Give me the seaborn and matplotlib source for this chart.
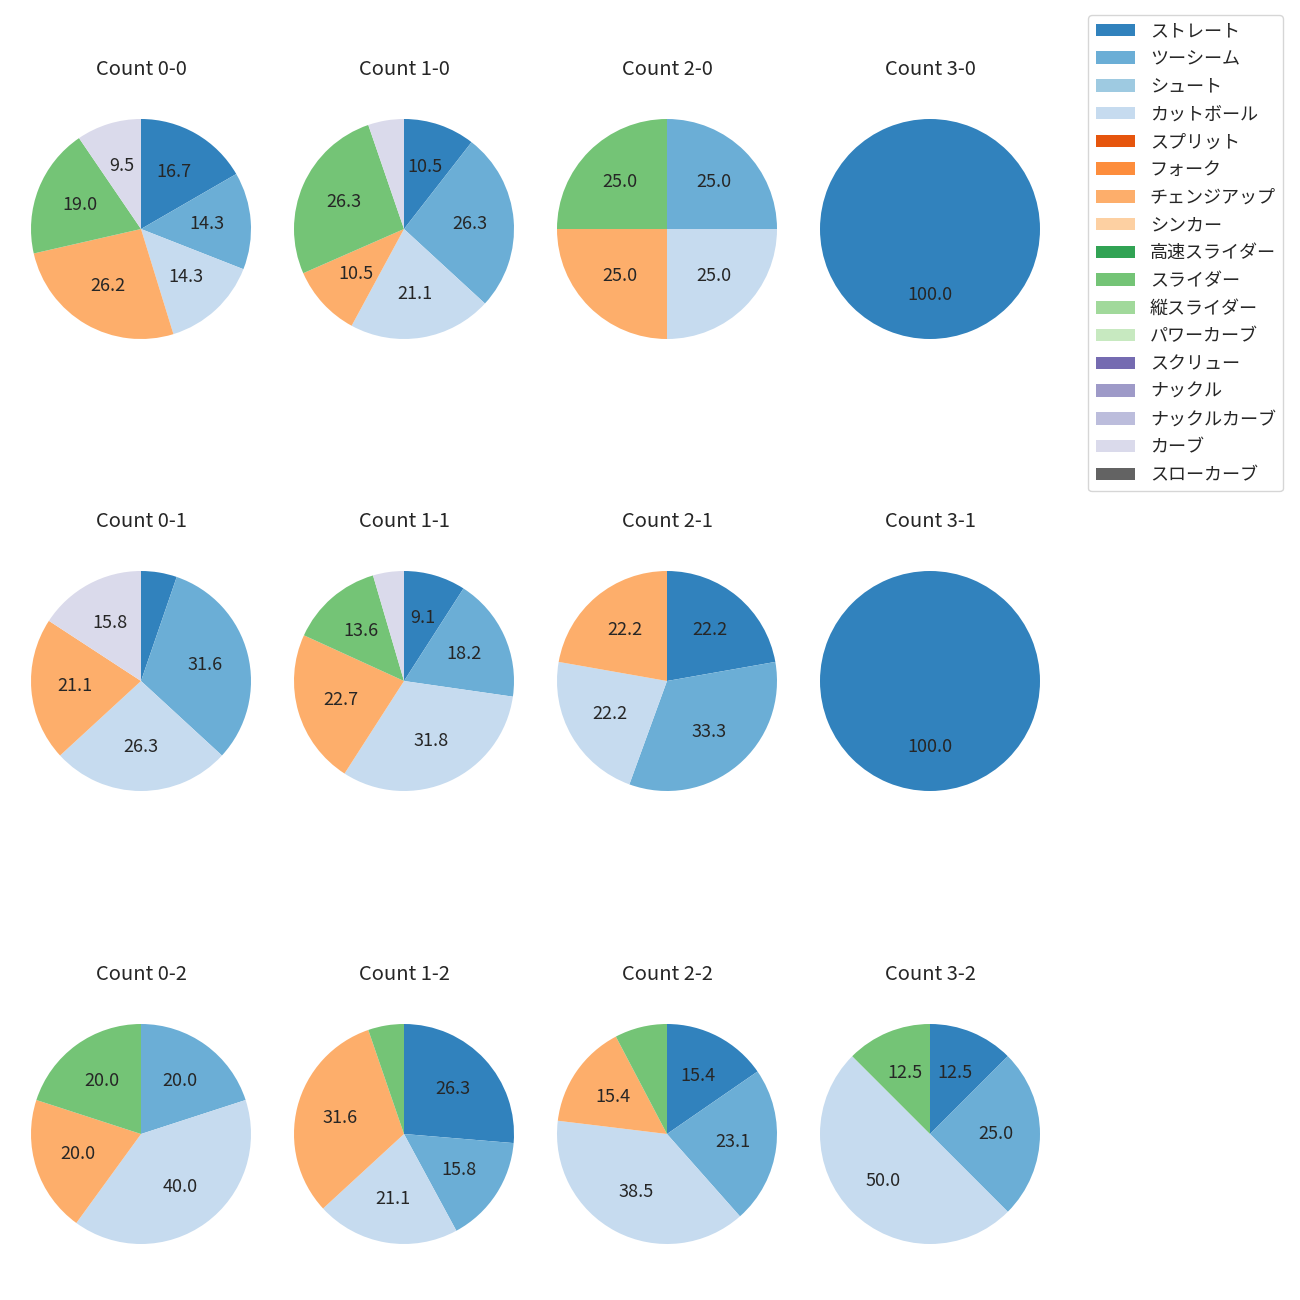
import matplotlib
matplotlib.use("Agg")
import matplotlib.pyplot as plt
import seaborn as sns
from matplotlib.patches import Patch

sns.set_style("white")
plt.rcParams['font.family'] = ['Noto Sans CJK JP', 'DejaVu Sans']

pitch_types = ["ストレート", "ツーシーム", "シュート", "カットボール", "スプリット", "フォーク",
               "チェンジアップ", "シンカー", "高速スライダー", "スライダー", "縦スライダー",
               "パワーカーブ", "スクリュー", "ナックル", "ナックルカーブ", "カーブ", "スローカーブ"]

titles = ["Count 0-0", "Count 1-0", "Count 2-0", "Count 3-0",
          "Count 0-1", "Count 1-1", "Count 2-1", "Count 3-1",
          "Count 0-2", "Count 1-2", "Count 2-2", "Count 3-2"]

# pitch counts per ball-strike count, in pitch_types order
c00 = [7, 6, 0, 6, 0, 0, 11, 0, 0, 8, 0, 0, 0, 0, 0, 4, 0]
c10 = [2, 5, 0, 4, 0, 0, 2, 0, 0, 5, 0, 0, 0, 0, 0, 1, 0]
c20 = [0, 1, 0, 1, 0, 0, 1, 0, 0, 1, 0, 0, 0, 0, 0, 0, 0]
c30 = [1, 0, 0, 0, 0, 0, 0, 0, 0, 0, 0, 0, 0, 0, 0, 0, 0]
c01 = [1, 6, 0, 5, 0, 0, 4, 0, 0, 0, 0, 0, 0, 0, 0, 3, 0]
c11 = [2, 4, 0, 7, 0, 0, 5, 0, 0, 3, 0, 0, 0, 0, 0, 1, 0]
c21 = [2, 3, 0, 2, 0, 0, 2, 0, 0, 0, 0, 0, 0, 0, 0, 0, 0]
c31 = [1, 0, 0, 0, 0, 0, 0, 0, 0, 0, 0, 0, 0, 0, 0, 0, 0]
c02 = [0, 1, 0, 2, 0, 0, 1, 0, 0, 1, 0, 0, 0, 0, 0, 0, 0]
c12 = [5, 3, 0, 4, 0, 0, 6, 0, 0, 1, 0, 0, 0, 0, 0, 0, 0]
c22 = [2, 3, 0, 5, 0, 0, 2, 0, 0, 1, 0, 0, 0, 0, 0, 0, 0]
c32 = [1, 2, 0, 4, 0, 0, 0, 0, 0, 1, 0, 0, 0, 0, 0, 0, 0]
counts = [c00, c10, c20, c30, c01, c11, c21, c31, c02, c12, c22, c32]

colors = sns.color_palette("tab20c", 20)[:len(pitch_types)]

W = H = 1300
fig = plt.figure(figsize=(13, 13), dpi=100)

cx_list = [141, 404, 667, 930]
cy_list = [229, 681, 1134]
R = 110
side = 2.5 * R

for i, (title, vals) in enumerate(zip(titles, counts)):
    r, c = divmod(i, 4)
    cx, cy = cx_list[c], cy_list[r]
    ax = fig.add_axes([(cx - side / 2) / W, 1 - (cy + side / 2) / H, side / W, side / H])
    v = [x for x in vals if x > 0]
    col = [colors[k] for k, x in enumerate(vals) if x > 0]
    ax.pie(v, colors=col, startangle=90, counterclock=False,
           autopct=lambda p: f"{p:.1f}" if p > 8 else "",
           wedgeprops={"linewidth": 0, "edgecolor": "none"},
           textprops={"fontsize": 13})
    ax.set_title(title, fontsize=14.5, pad=12)

handles = [Patch(facecolor=colors[k], edgecolor="none", label=pitch_types[k])
           for k in range(len(pitch_types))]
fig.legend(handles=handles, loc="upper right", bbox_to_anchor=(1283 / W, 1 - 15 / H),
           borderaxespad=0, fontsize=13, handlelength=2.2, handletextpad=0.8,
           labelspacing=0.54)

fig.savefig("out.png", dpi=100)
